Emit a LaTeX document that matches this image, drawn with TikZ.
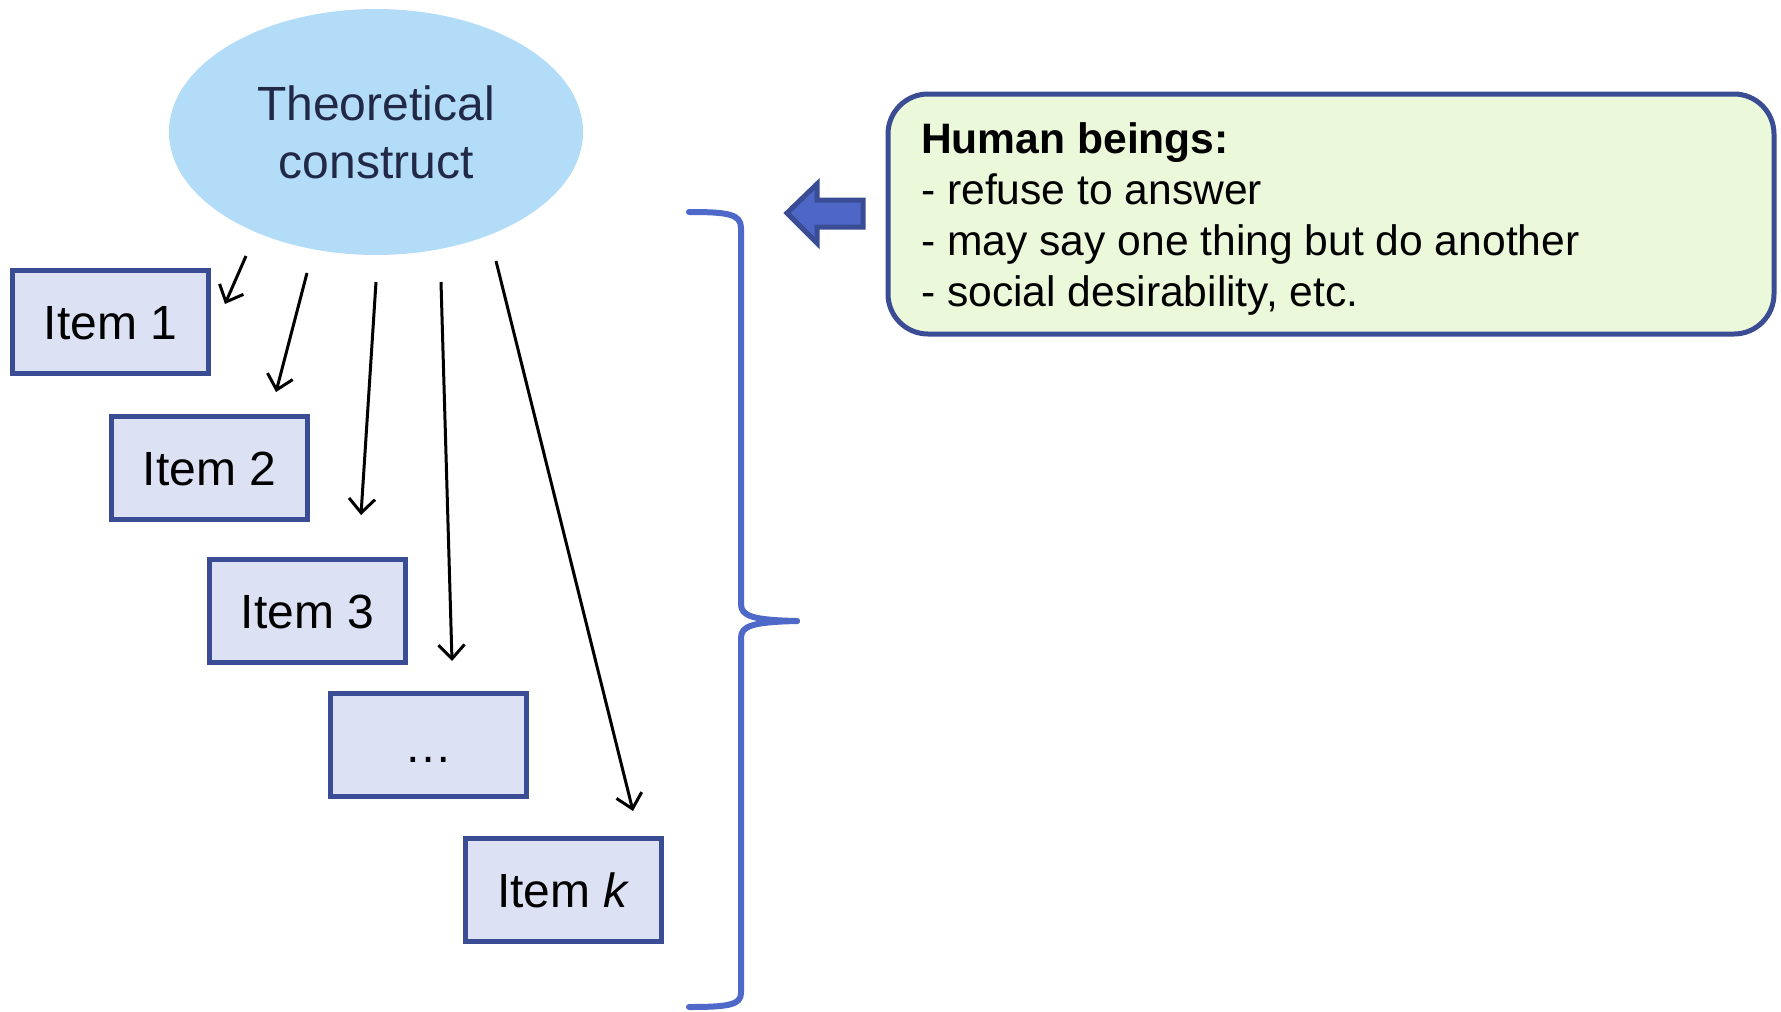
\documentclass[tikz,border=0pt]{standalone}
\usepackage{fontspec}
\setmainfont{Liberation Sans}
\usetikzlibrary{shapes.geometric,arrows.meta}

\definecolor{ellfill}{HTML}{B3DCF8}
\definecolor{elltext}{HTML}{212947}
\definecolor{boxfill}{HTML}{DCE1F3}
\definecolor{boxline}{HTML}{3A4C94}
\definecolor{notefill}{HTML}{EBF8DA}
\definecolor{bracecol}{HTML}{4F69C9}
\definecolor{fatfill}{HTML}{4E67C7}

\tikzset{
  itembox/.style={draw=boxline, fill=boxfill, line width=5pt,
    minimum width=196pt, minimum height=103pt, inner sep=0pt,
    text height=35pt, text depth=0pt,
    font=\fontsize{48}{57.6}\selectfont},
  load/.style={draw=black, line width=3pt,
    -{Straight Barb[length=14pt,width=26pt,line width=3pt]}},
  bracepath/.style={draw=bracecol, line width=6pt, line cap=round, line join=round},
}

\begin{document}
\begin{tikzpicture}[x=1pt,y=-1pt]
\useasboundingbox (0,0) rectangle (1781,1012);

% latent construct
\node[ellipse, fill=ellfill, minimum width=414pt, minimum height=246pt,
      inner sep=0pt, align=center, text=elltext,
      font=\fontsize{48}{58}\selectfont] (th) at (376,132)
      {Theoretical\\construct};

% observed items
\node[itembox] (i1) at (110.5,321.5) {Item 1};
\node[itembox] (i2) at (209.5,468) {Item 2};
\node[itembox] (i3) at (307.5,611) {Item 3};
\node[itembox] (id) at (428,745) {\dots};
\node[itembox] (ik) at (563.5,889.5) {Item \textit{k}};

% loading arrows
\coordinate (s1) at (246,256); \coordinate (e1) at (225,304);
\coordinate (s2) at (307,273); \coordinate (e2) at (276,392);
\coordinate (s3) at (376,282); \coordinate (e3) at (361,515);
\coordinate (s4) at (441,282); \coordinate (e4) at (452,661);
\coordinate (s5) at (496,261); \coordinate (e5) at (633,811);
\draw[load] (s1) -- (e1);
\draw[load] (s2) -- (e2);
\draw[load] (s3) -- (e3);
\draw[load] (s4) -- (e4);
\draw[load] (s5) -- (e5);

% curly brace grouping the items
\coordinate (btip) at (797,621);
\draw[bracepath] (689,212) .. controls (728,212) and (741,214) .. (741,228)
  -- (741,604) .. controls (741,616) and (752,620) .. (btip);
\draw[bracepath] (btip) .. controls (752,622) and (741,626) .. (741,638)
  -- (741,993) .. controls (741,1005) and (728,1007) .. (689,1007);

% block arrow pointing at the brace
\draw[draw=boxline, fill=fatfill, line width=5pt, line join=miter]
  (787,213) -- (817,184) -- (817,200) -- (863,200) -- (863,227)
  -- (817,227) -- (817,243) -- cycle;

% note box
\node[draw=boxline, fill=notefill, line width=5pt, rounded corners=40pt,
      minimum width=886pt, minimum height=240pt, inner sep=0pt] (note)
      at (1331,214) {};
\node[anchor=north west, align=left, inner sep=0pt,
      font=\fontsize{42.6}{51}\selectfont] (notetext) at (921,122.5)
  {\textbf{Human beings:}\\
   - refuse to answer\\
   - may say one thing but do another\\
   - social desirability, etc.};
\end{tikzpicture}
\end{document}
